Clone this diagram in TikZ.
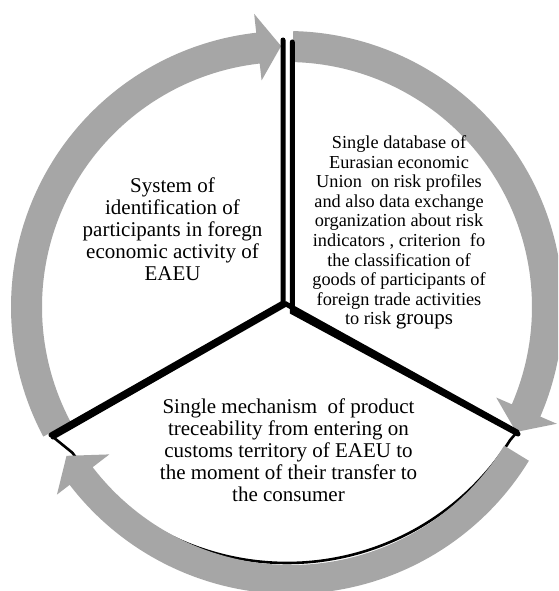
\documentclass[tikz,border=0pt]{standalone}
\usepackage{fontspec}
\setmainfont{Liberation Serif}
\usetikzlibrary{calc}
\definecolor{arrowgray}{RGB}{166,166,166}
\newcommand{\ringarrow}[8]{%
  % #1 center, #2 start angle, #3 head base angle, #4 tip angle,
  % #5 inner r, #6 outer r, #7 inner wing r, #8 outer wing r
  \begin{scope}[shift={#1}]
    \fill[arrowgray] (#2:#5) arc[start angle=#2, end angle=#3, radius=#5]
      -- (#3:#7) -- (#4:{(#5+#6)/2+0.5}) -- (#3:#8) -- (#3:#6)
      arc[start angle=#3, end angle=#2, radius=#6] -- cycle;
  \end{scope}}
\begin{document}
\begin{tikzpicture}[x=1pt,y=-1pt,
  blk/.style={line width=5pt, line cap=round, line join=miter},
  thin/.style={line width=2.6pt, line cap=round, line join=round},
  txt/.style={align=center, inner sep=0pt, text=black}]
\useasboundingbox (0,0) rectangle (558,591);
\fill[white] (0,0) rectangle (558,591);
\clip (0,0) rectangle (558,591);
% anchor coordinates
\coordinate (ctr) at (287,307);
\coordinate (bctr) at (291,315);
\coordinate (arcc) at (287,299);
% bottom arc of the lower segment (beneath the arrows)
\coordinate (arcR) at ($(arcc)+(32.3:264)$);
\draw[thin] (arcR) arc[start angle=32.3, end angle=144.4, radius=264] coordinate (arcL);
% grey circular arrows
\ringarrow{(287,307)}{152}{263.6}{268.7}{245}{276}{228}{295}
\ringarrow{(287,307)}{271.3}{383.4}{388.6}{245}{276}{228}{294}
\ringarrow{(291,315)}{31.5}{142.5}{147.9}{250}{279}{229}{295}
% segment outlines
\coordinate (topA) at (283,40);
\coordinate (vA) at (283,303);
\coordinate (endA) at (51,435);
\coordinate (topB) at (292.3,42);
\coordinate (vB) at (292.3,312);
\coordinate (endB) at (518,434);
\coordinate (vC) at (286,304);
\coordinate (lC) at (53,437);
\coordinate (rC) at (517,432);
\draw[blk] (topA) -- (vA) -- (endA);
\draw[blk] (topB) -- (vB) -- (endB);
\draw[blk] (lC) -- (vC) -- (rC);
\draw[thin] (lC) -- (arcL);
\draw[thin] (rC) -- (arcR);
% texts
\node[txt, font=\fontsize{21}{22.1}\selectfont] (sysid) at (172.5,229)
  {System of\\identification of\\participants in foregn\\economic activity of\\EAEU};
\node[txt, font=\fontsize{18.3}{19.6}\selectfont] (database) at (399,232.5)
  {Single database of\\Eurasian economic\\Union~ on risk profiles\\and also data exchange\\organization about risk\\indicators , criterion~ fo\\the classification of\\goods of participants of\\foreign trade activities\\to risk {\fontsize{21}{19.6}\selectfont groups}};
\node[txt, font=\fontsize{21}{22.1}\selectfont] (mechanism) at (288.5,450.5)
  {Single mechanism~ of product\\treceability from entering on\\customs territory of EAEU to\\the moment of their transfer to\\the consumer};
\end{tikzpicture}
\end{document}
